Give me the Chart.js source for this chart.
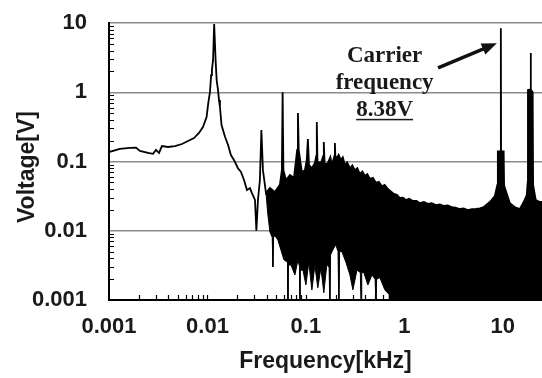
<!DOCTYPE html>
<html>
<head>
<meta charset="utf-8">
<script src="https://cdn.jsdelivr.net/npm/chart.js@4.4.0/dist/chart.umd.min.js"></script>
<style>
  html, body { margin: 0; padding: 0; background: #fff; }
</style>
</head>
<body>
<canvas id="spectrum" width="542" height="378"></canvas>
<script>
// spectrum trace, frequency in kHz, voltage in V
const traceFreq = [
  0.001, 0.00129, 0.00163, 0.00188, 0.00206, 0.00249, 0.0028, 0.0030, 0.00322, 0.00345,
  0.00397, 0.00468, 0.00551, 0.00634, 0.0073, 0.0082, 0.009, 0.0098, 0.0102, 0.0106,
  0.0109, 0.0111, 0.0114, 0.0117, 0.0121, 0.0124, 0.0128, 0.0131, 0.0134, 0.0139,
  0.0151, 0.0162, 0.0173, 0.0186, 0.0204, 0.0219, 0.0235, 0.0252, 0.027, 0.0283,
  0.0304, 0.0314, 0.0326, 0.0341, 0.0353, 0.0366, 0.0393, 0.0431, 0.0484, 0.0544,
  0.057, 0.058, 0.0591, 0.0627, 0.0689, 0.0756, 0.0815, 0.083, 0.0845, 0.091,
  0.0977, 0.102, 0.1047, 0.1075, 0.115, 0.1234, 0.1275, 0.129, 0.131, 0.142,
  0.150, 0.152, 0.155, 0.167, 0.177, 0.184, 0.195, 0.197, 0.199, 0.206,
  0.215, 0.226, 0.237, 0.249, 0.262, 0.28, 0.296, 0.314, 0.333, 0.353,
  0.375, 0.397, 0.42, 0.447, 0.48, 0.514, 0.55, 0.591, 0.63, 0.68,
  0.73, 0.782, 0.84, 0.90, 0.97, 1.035, 1.12, 1.22, 1.33, 1.44,
  1.58, 1.73, 1.9, 2.09, 2.3, 2.52, 2.75, 3.03, 3.3, 3.66,
  4.0, 4.41, 4.85, 5.32, 5.85, 6.41, 7.38, 8.3, 8.8, 8.9,
  9.5, 9.55, 9.6, 10.2, 10.3, 11.8, 13.2, 14.9, 16.3, 17.5,
  17.9, 18.0, 19.1, 19.2, 19.3, 20.1, 20.3, 21.6, 23.8, 25
];
const traceVolt = [
  0.137, 0.152, 0.157, 0.159, 0.142, 0.133, 0.129, 0.147, 0.133, 0.167,
  0.162, 0.167, 0.179, 0.198, 0.218, 0.258, 0.315, 0.44, 0.70, 1.0,
  1.77, 2.1, 2.9, 9.7, 2.9, 1.5, 1.08, 0.77, 0.61, 0.337,
  0.226, 0.173, 0.124, 0.105, 0.080, 0.0705, 0.054, 0.0388, 0.0414, 0.035,
  0.0278, 0.010, 0.028, 0.054, 0.285, 0.075, 0.035, 0.0414, 0.0363, 0.046,
  0.075, 1.0, 0.075, 0.054, 0.064, 0.058, 0.147, 0.50, 0.147, 0.0705,
  0.075, 0.105, 0.211, 0.089, 0.080, 0.095, 0.12, 0.372, 0.10, 0.095,
  0.12, 0.191, 0.089, 0.095, 0.116, 0.089, 0.12, 0.185, 0.12, 0.112,
  0.125, 0.105, 0.115, 0.089, 0.097, 0.080, 0.088, 0.075, 0.080, 0.066,
  0.072, 0.062, 0.066, 0.056, 0.058, 0.049, 0.051, 0.044, 0.046, 0.040,
  0.037, 0.034, 0.033, 0.0297, 0.030, 0.0278, 0.029, 0.0269, 0.027, 0.025,
  0.026, 0.0245, 0.025, 0.0235, 0.024, 0.0228, 0.0232, 0.022, 0.0215, 0.0206,
  0.021, 0.0199, 0.0205, 0.0206, 0.021, 0.022, 0.026, 0.0318, 0.046, 0.14,
  0.14, 8.38, 0.14, 0.14, 0.045, 0.025, 0.022, 0.0206, 0.026, 0.0328,
  0.05, 1.08, 1.1, 3.7, 1.1, 1.0, 0.046, 0.0278, 0.026, 0.026
];
// lower edge of the dense noise band
const floorFreq = [
  0.0393, 0.0411, 0.0431, 0.0455, 0.0462, 0.0469, 0.0484, 0.052, 0.0557, 0.0598,
  0.0650, 0.0657, 0.0664, 0.0705, 0.0773, 0.083, 0.0862, 0.0869, 0.0876, 0.0933,
  0.1, 0.107, 0.115, 0.1234, 0.132, 0.142, 0.152, 0.163, 0.172, 0.175,
  0.178, 0.188, 0.201, 0.212, 0.216, 0.220, 0.232, 0.255, 0.28, 0.30,
  0.33, 0.357, 0.363, 0.369, 0.387, 0.426, 0.468, 0.505, 0.514, 0.523,
  0.564, 0.634, 0.70, 0.713, 25
];
const floorVolt = [
  0.035, 0.0169, 0.0096, 0.0080, 0.003, 0.0080, 0.0085, 0.0073, 0.0053, 0.0038,
  0.0035, 0.0008, 0.0032, 0.0032, 0.0023, 0.0038, 0.0030, 0.0008, 0.0027, 0.0027,
  0.00165, 0.0035, 0.0014, 0.0032, 0.0015, 0.0029, 0.00127, 0.0032, 0.0030, 0.0008,
  0.0045, 0.0053, 0.0063, 0.0050, 0.0008, 0.0050, 0.005, 0.0035, 0.0023, 0.0014,
  0.0027, 0.0025, 0.0008, 0.0025, 0.0025, 0.00165, 0.0023, 0.0020, 0.0008, 0.0020,
  0.0021, 0.0014, 0.0012, 0.0008, 0.0008
];
const xTickValues = [0.001, 0.01, 0.1, 1, 10];
const xTickLabels = ['0.001', '0.01', '0.1', '1', '10'];
const yTickValues = [0.001, 0.01, 0.1, 1, 10];
const yTickLabels = ['0.001', '0.01', '0.1', '1', '10'];
const noteLines = ['Carrier', 'frequency', '8.38V'];

const SANS = '"Liberation Sans", Arial, sans-serif';
const SERIF = '"Liberation Serif", "Times New Roman", serif';

function labelFor(values, labels, v) {
  const i = values.findIndex(t => Math.abs(t - v) / t < 1e-6);
  return i < 0 ? '' : labels[i];
}

// inward minor ticks, y title and the carrier note
const overlay = {
  id: 'overlay',
  afterDraw(chart) {
    const { ctx, chartArea: area, scales: { x, y } } = chart;
    ctx.save();
    ctx.strokeStyle = '#000';
    ctx.lineWidth = 1.2;
    ctx.beginPath();
    for (let d = -3; d <= 1; d++) {
      for (let m = 1; m <= 9; m++) {
        const v = m * Math.pow(10, d);
        if (m > 1 && v < y.max) {
          const py = Math.round(y.getPixelForValue(v)) + 0.5;
          ctx.moveTo(area.left, py);
          ctx.lineTo(area.left + 5, py);
        }
        if (v > x.min && v < x.max) {
          const px = Math.round(x.getPixelForValue(v)) + 0.5;
          ctx.moveTo(px, area.bottom);
          ctx.lineTo(px, area.bottom - 5);
        }
      }
    }
    ctx.stroke();

    // y axis title
    ctx.fillStyle = '#1a1a1a';
    ctx.font = 'bold 23px ' + SANS;
    ctx.textAlign = 'center';
    ctx.textBaseline = 'middle';
    ctx.save();
    ctx.translate(28, 167);
    ctx.rotate(-Math.PI / 2);
    ctx.fillText('Voltage[V]', 0, 0);
    ctx.restore();

    // note text
    const nx = x.getPixelForValue(0.63);
    const ny = y.getPixelForValue(2.75);
    ctx.font = 'bold 23px ' + SERIF;
    ctx.textBaseline = 'alphabetic';
    noteLines.forEach((t, i) => ctx.fillText(t, nx, ny + i * 27));
    const w = ctx.measureText(noteLines[2]).width;
    ctx.fillRect(nx - w / 2, ny + 2 * 27 + 3, w, 1.5);

    // arrow
    const x0 = x.getPixelForValue(2.2), y0 = y.getPixelForValue(2.25);
    const x1 = x.getPixelForValue(8.7), y1 = y.getPixelForValue(5.1);
    const ang = Math.atan2(y1 - y0, x1 - x0);
    ctx.strokeStyle = '#111';
    ctx.lineWidth = 3.5;
    ctx.beginPath();
    ctx.moveTo(x0, y0);
    ctx.lineTo(x1 - 10 * Math.cos(ang), y1 - 10 * Math.sin(ang));
    ctx.stroke();
    ctx.fillStyle = '#111';
    ctx.beginPath();
    ctx.moveTo(x1, y1);
    ctx.lineTo(x1 - 15 * Math.cos(ang) + 6 * Math.sin(ang), y1 - 15 * Math.sin(ang) - 6 * Math.cos(ang));
    ctx.lineTo(x1 - 15 * Math.cos(ang) - 6 * Math.sin(ang), y1 - 15 * Math.sin(ang) + 6 * Math.cos(ang));
    ctx.closePath();
    ctx.fill();
    ctx.restore();
  }
};

new Chart(document.getElementById('spectrum'), {
  type: 'line',
  data: {
    datasets: [
      {
        label: 'trace',
        data: traceFreq.map((f, i) => ({ x: f, y: traceVolt[i] })),
        borderColor: '#000',
        borderWidth: 1.8,
        pointRadius: 0,
        tension: 0,
        fill: false
      },
      {
        label: 'floor',
        data: floorFreq.map((f, i) => ({ x: f, y: floorVolt[i] })),
        borderColor: '#000',
        backgroundColor: '#000',
        borderWidth: 1,
        pointRadius: 0,
        tension: 0,
        fill: '-1'
      }
    ]
  },
  options: {
    responsive: false,
    animation: false,
    layout: { padding: { top: 23, right: 0, bottom: 0, left: 0 } },
    plugins: { legend: { display: false }, tooltip: { enabled: false } },
    scales: {
      x: {
        type: 'logarithmic',
        min: 0.001,
        max: 25,
        afterFit: s => { s.height = 78; s.paddingLeft = 0; s.paddingRight = 0; },
        grid: { drawOnChartArea: false, drawTicks: false, color: 'rgba(0,0,0,0)' },
        border: { display: true, color: '#000', width: 2 },
        ticks: {
          autoSkip: false,
          maxRotation: 0,
          padding: 14,
          color: '#1a1a1a',
          font: { family: SANS, size: 22, weight: 'bold' },
          callback: v => labelFor(xTickValues, xTickLabels, v)
        },
        title: {
          display: true,
          text: 'Frequency[kHz]',
          color: '#1a1a1a',
          font: { family: SANS, size: 23, weight: 'bold' },
          padding: { top: 0, bottom: 3 }
        }
      },
      y: {
        type: 'logarithmic',
        min: 0.001,
        max: 10,
        afterFit: s => { s.width = 109; s.paddingTop = 0; s.paddingBottom = 0; },
        grid: {
          drawTicks: false,
          lineWidth: 1.5,
          color: c => (c.tick && c.tick.value > 0.0011 && labelFor(yTickValues, yTickLabels, c.tick.value)) ? '#8c8c8c' : 'rgba(0,0,0,0)'
        },
        border: { display: true, color: '#000', width: 2 },
        ticks: {
          autoSkip: false,
          padding: 22,
          color: '#1a1a1a',
          font: { family: SANS, size: 22, weight: 'bold' },
          callback: v => labelFor(yTickValues, yTickLabels, v)
        }
      }
    }
  },
  plugins: [overlay]
});
</script>
</body>
</html>
